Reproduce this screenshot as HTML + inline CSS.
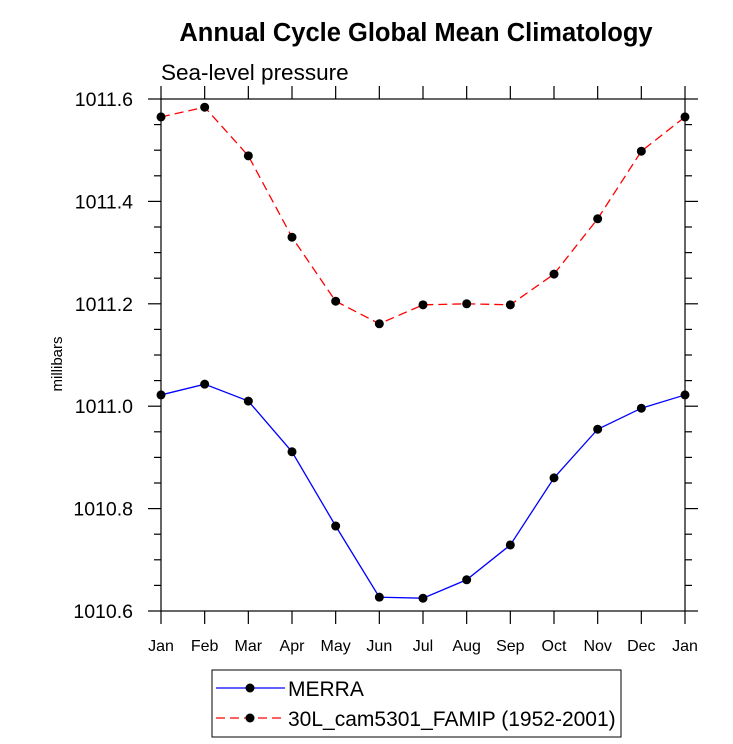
<!DOCTYPE html>
<html><head><meta charset="utf-8"><style>
body{margin:0;background:#fff;}
svg{display:block;font-family:"Liberation Sans",sans-serif;}
</style></head><body>
<svg id="chart" width="733" height="744">
<text x="416" y="41" text-anchor="middle" font-size="25.5" font-weight="bold">Annual Cycle Global Mean Climatology</text>
<text x="161" y="80" font-size="22.5">Sea-level pressure</text>
<text transform="translate(62,364) rotate(-90)" text-anchor="middle" font-size="15">millibars</text>
<g id="axes"></g>
<g id="series"></g>
<g>
<rect x="212" y="670" width="409" height="67" fill="none" stroke="#000" stroke-width="1"/>
<g>
<line x1="216" y1="688" x2="285" y2="688" stroke="#0000ff" stroke-width="1.3"/>
<circle cx="250" cy="688" r="4.5" fill="#000"/>
<text x="288" y="696" font-size="21">MERRA</text>
</g>
<g>
<line x1="216" y1="718" x2="285" y2="718" stroke="#ff0000" stroke-width="1.3" stroke-dasharray="9,5"/>
<circle cx="250" cy="718" r="4.5" fill="#000"/>
<text x="288" y="726" font-size="21">30L_cam5301_FAMIP (1952-2001)</text>
</g>
</g>
</svg>
<script>
const months=["Jan","Feb","Mar","Apr","May","Jun","Jul","Aug","Sep","Oct","Nov","Dec","Jan"];
const merra=[1011.022,1011.043,1011.010,1010.911,1010.766,1010.627,1010.625,1010.661,1010.729,1010.860,1010.955,1010.996,1011.022];
const model=[1011.565,1011.584,1011.489,1011.330,1011.205,1011.161,1011.198,1011.200,1011.198,1011.258,1011.366,1011.498,1011.565];
const yTicks=["1010.6","1010.8","1011.0","1011.2","1011.4","1011.6"];
const L=161,R=685,T=99,B=611,yMin=1010.6,yMax=1011.6;
const xs=i=>L+(R-L)*i/(months.length-1);
const ys=v=>B-(v-yMin)/(yMax-yMin)*(B-T);
const NS="http://www.w3.org/2000/svg";
function mk(tag,attrs,parent){const e=document.createElementNS(NS,tag);for(const k in attrs)e.setAttribute(k,attrs[k]);parent.appendChild(e);return e;}
const ax=document.getElementById('axes');
const frame=mk('rect',{x:L,y:T,width:R-L,height:B-T,fill:'none',stroke:'#000','stroke-width':1.2},ax);


months.forEach((m,i)=>{
  const x=xs(i);
  mk('line',{x1:x,y1:B,x2:x,y2:B+13,stroke:'#000','stroke-width':1.2},ax);
  mk('line',{x1:x,y1:T,x2:x,y2:T-13,stroke:'#000','stroke-width':1.2},ax);
  const t=mk('text',{x:x,y:B+40,'text-anchor':'middle','font-size':16},ax);
  t.textContent=m;
  
  
});
for(let k=0;k<=20;k++){
  const v=yMin+k*0.05,y=ys(v),major=k%4===0,len=major?13:7;
  mk('line',{x1:L,y1:y,x2:L-len,y2:y,stroke:'#000','stroke-width':1.2},ax);
  mk('line',{x1:R,y1:y,x2:R+len,y2:y,stroke:'#000','stroke-width':1.2},ax);
}
yTicks.forEach(s=>{
  const t=mk('text',{x:L-28,y:ys(parseFloat(s))+7,'text-anchor':'end','font-size':19.5},ax);
  t.textContent=s;
  
  
});
const sg=document.getElementById('series');
function draw(vals,color,dash,name){
  const g=mk('g',{},sg);
  
  
  const pts=vals.map((v,i)=>xs(i)+','+ys(v)).join(' ');
  const a={points:pts,fill:'none',stroke:color,'stroke-width':1.3};
  if(dash)a['stroke-dasharray']=dash;
  mk('polyline',a,g);
  vals.forEach((v,i)=>{
    const c=mk('circle',{cx:xs(i),cy:ys(v),r:4.5,fill:'#000'},g);
    
    
  });
}
draw(model,'#ff0000','9,5','model-series');
draw(merra,'#0000ff',null,'merra-series');
</script>
</body></html>
